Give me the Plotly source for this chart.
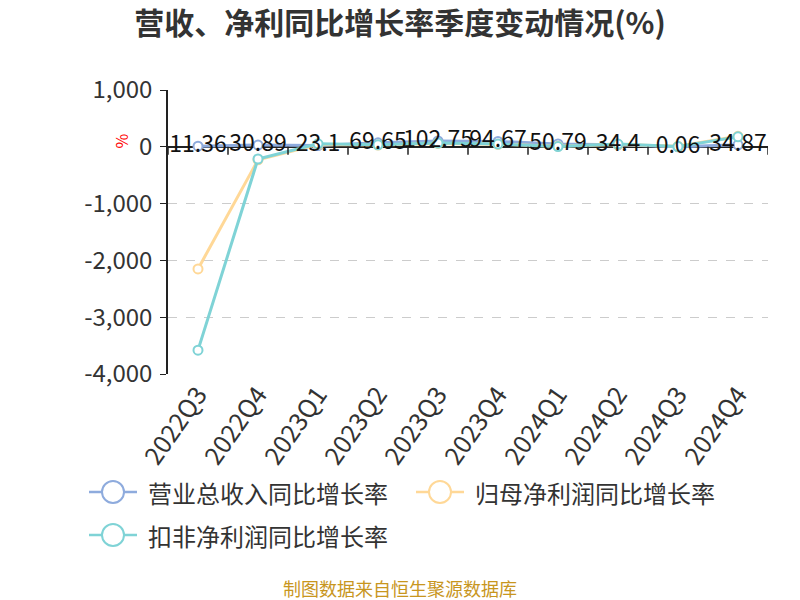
import plotly.graph_objects as go

categories = ["2022Q3", "2022Q4", "2023Q1", "2023Q2", "2023Q3", "2023Q4", "2024Q1", "2024Q2", "2024Q3", "2024Q4"]
revenue_yoy = [11.36, 30.89, 23.1, 69.65, 102.75, 94.67, 50.79, 34.4, 0.06, 34.87]
netprofit_yoy = [-2150, -230, 40, 30, 60, 45, 10, 40, 8, 185]
deducted_yoy = [-3580, -215, 53, 35, 65, 48, 5, 48, 5, 175]
revenue_labels = ["11.36", "30.89", "23.1", "69.65", "102.75", "94.67", "50.79", "34.4", "0.06", "34.87"]
series_names = ["营业总收入同比增长率", "归母净利润同比增长率", "扣非净利润同比增长率"]
y_ticks = [1000, 0, -1000, -2000, -3000, -4000]
y_ticktext = ["1,000", "0", "-1,000", "-2,000", "-3,000", "-4,000"]

colors = ["#8EABDD", "#FFD897", "#7FD3D6"]
FONT = "Noto Sans CJK SC"

fig = go.Figure()
for name, vals, col in zip(series_names, [revenue_yoy, netprofit_yoy, deducted_yoy], colors):
    fig.add_trace(go.Scatter(
        x=categories, y=vals, name=name, mode="lines+markers",
        line=dict(color=col, width=3),
        marker=dict(symbol="circle", size=9, color="white", line=dict(color=col, width=2)),
        showlegend=False,
    ))

# data labels (revenue series) on top
fig.add_trace(go.Scatter(
    x=categories, y=revenue_yoy, mode="text", text=revenue_labels,
    textposition="middle center",
    textfont=dict(family=FONT, size=23, color="#111"),
    showlegend=False, hoverinfo="skip",
))

# x-axis tick marks at band boundaries along y=0
shapes = []
for i in range(len(categories) + 1):
    shapes.append(dict(type="line", xref="x", yref="y", x0=i - 0.5, x1=i - 0.5,
                       y0=0, y1=-140, line=dict(color="#222", width=1.5)))

# manual legend
L, T, W, H = 168, 90, 600, 284
def px(x):
    return (x - L) / W
def py(y):
    return (T + H - y) / H

legend_items = [(113, 492), (440, 492), (113, 535)]
annotations = []
for (cx, cy), name, col in zip(legend_items, series_names, colors):
    shapes.append(dict(type="line", xref="paper", yref="paper", x0=px(cx - 24), x1=px(cx + 24),
                       y0=py(cy), y1=py(cy), line=dict(color=col, width=2.5)))
    shapes.append(dict(type="circle", xref="paper", yref="paper", x0=px(cx - 11), x1=px(cx + 11),
                       y0=py(cy - 11), y1=py(cy + 11), fillcolor="white", line=dict(color=col, width=2)))
    annotations.append(dict(xref="paper", yref="paper", x=px(cx + 33), y=py(cy), text=name,
                            showarrow=False, xanchor="left", yanchor="middle",
                            font=dict(family=FONT, size=24, color="#333")))

annotations.append(dict(xref="paper", yref="paper", x=px(106), y=py(132), text="%", textangle=-90,
                        showarrow=False, font=dict(family=FONT, size=16, color="red")))
annotations.append(dict(xref="paper", yref="paper", x=px(400), y=py(588), text="制图数据来自恒生聚源数据库",
                        showarrow=False, xanchor="center", yanchor="middle",
                        font=dict(family=FONT, size=18, color="#C8961E")))

fig.update_layout(
    width=800, height=600,
    margin=dict(l=L, r=800 - L - W, t=T, b=600 - T - H),
    paper_bgcolor="white", plot_bgcolor="white",
    title=dict(text="<b>营收、净利同比增长率季度变动情况(%)</b>", x=0.5, xanchor="center",
               y=1 - 23 / 600, yanchor="middle",
               font=dict(family=FONT, size=30, color="#333")),
    xaxis=dict(type="category", range=[-0.5, len(categories) - 0.5], showgrid=False,
               showline=False, ticks="", tickangle=-55,
               tickfont=dict(family=FONT, size=25, color="#333")),
    yaxis=dict(range=[-4000, 1000], tickvals=y_ticks, ticktext=y_ticktext,
               showgrid=True, gridcolor="#CCCCCC", griddash="dash", gridwidth=1.2,
               zeroline=True, zerolinecolor="#222", zerolinewidth=1.5,
               showline=True, linecolor="#222", linewidth=1.5,
               ticks="outside", ticklen=6, tickcolor="#222", ticklabelstandoff=3,
               tickfont=dict(family=FONT, size=24, color="#333")),
    shapes=shapes, annotations=annotations,
    font=dict(family=FONT),
)

fig.write_html("out.html", config={"displayModeBar": False},
               post_script="document.body.style.margin='0';document.body.style.padding='0';")
